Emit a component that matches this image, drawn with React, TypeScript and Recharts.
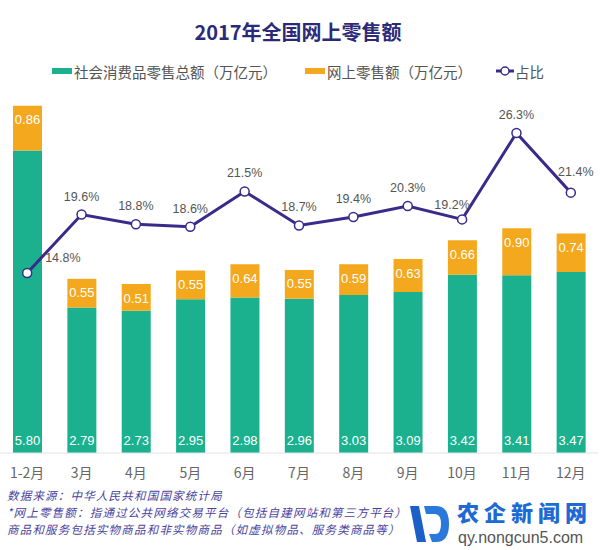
import { ComposedChart, Bar, Line, XAxis, YAxis, LabelList } from 'recharts'

const months = ['1-2月', '3月', '4月', '5月', '6月', '7月', '8月', '9月', '10月', '11月', '12月']
// 社会消费品零售总额（万亿元）
const totalRetail = [5.8, 2.79, 2.73, 2.95, 2.98, 2.96, 3.03, 3.09, 3.42, 3.41, 3.47]
// 网上零售额（万亿元）
const onlineRetail = [0.86, 0.55, 0.51, 0.55, 0.64, 0.55, 0.59, 0.63, 0.66, 0.9, 0.74]
// 占比（%）
const share = [14.8, 19.6, 18.8, 18.6, 21.5, 18.7, 19.4, 20.3, 19.2, 26.3, 21.4]

const notes = [
  '数据来源：中华人民共和国国家统计局',
  '*网上零售额：指通过公共网络交易平台（包括自建网站和第三方平台）',
  '商品和服务包括实物商品和非实物商品（如虚拟物品、服务类商品等）',
]

const GREEN = '#1bb18f'
const ORANGE = '#f4a81d'
const PURPLE = '#3a2a8a'
const CJK = '"Noto Sans CJK SC", "Liberation Sans", sans-serif'
const NUM = '"Liberation Sans", Arial, sans-serif'

const data = months.map((m, i) => ({
  month: m,
  total: totalRetail[i],
  online: onlineRetail[i],
  share: share[i],
}))

// eslint-disable-next-line @typescript-eslint/no-explicit-any
function BottomLabel(props: any) {
  const { x, y, width, height, value } = props
  return (
    <text
      x={Number(x) + Number(width) / 2}
      y={Number(y) + Number(height) - 13}
      fill="#fff"
      fontSize={13}
      fontFamily={NUM}
      textAnchor="middle"
      dominantBaseline="central"
    >
      {Number(value).toFixed(2)}
    </text>
  )
}

// eslint-disable-next-line @typescript-eslint/no-explicit-any
function TopLabel(props: any) {
  const { x, y, width, value } = props
  return (
    <text
      x={Number(x) + Number(width) / 2}
      y={Number(y) + 14}
      fill="#fff"
      fontSize={13}
      fontFamily={NUM}
      textAnchor="middle"
      dominantBaseline="central"
    >
      {Number(value).toFixed(2)}
    </text>
  )
}

// eslint-disable-next-line @typescript-eslint/no-explicit-any
function ShareLabel(props: any) {
  const { x, y, value, index } = props
  let dx = 0
  let dy = -18
  let anchor: 'start' | 'middle' = 'middle'
  if (index === 0) {
    dx = 18
    dy = -15
    anchor = 'start'
  } else if (index === 8) {
    dx = -10
    dy = -14
  } else if (index === 10) {
    dx = 5
    dy = -21
  }
  return (
    <text
      x={Number(x) + dx}
      y={Number(y) + dy}
      fill="#555"
      fontSize={12.5}
      fontFamily={NUM}
      textAnchor={anchor}
      dominantBaseline="central"
    >
      {`${Number(value).toFixed(1)}%`}
    </text>
  )
}

const abs = (left: number, top: number) => ({ position: 'absolute' as const, left, top })

export default function App() {
  return (
    <div style={{ position: 'absolute', left: 0, top: 0, width: 600, height: 550, background: '#fff', overflow: 'hidden' }}>
      <div
        style={{
          ...abs(0, 19),
          width: 596,
          textAlign: 'center',
          fontFamily: CJK,
          fontWeight: 700,
          fontSize: 20,
          lineHeight: '26px',
          color: '#2c2a78',
        }}
      >
        2017年全国网上零售额
      </div>

      {/* legend */}
      <div style={{ ...abs(52, 68), width: 20, height: 6, background: GREEN }} />
      <div style={{ ...abs(74, 63), fontFamily: CJK, fontSize: 14.5, lineHeight: '18px', color: '#555' }}>
        社会消费品零售总额（万亿元）
      </div>
      <div style={{ ...abs(305, 68), width: 20, height: 6, background: ORANGE }} />
      <div style={{ ...abs(327, 63), fontFamily: CJK, fontSize: 14.5, lineHeight: '18px', color: '#555' }}>
        网上零售额（万亿元）
      </div>
      <svg style={abs(496, 65)} width={18} height={12}>
        <line x1={0} y1={6} x2={18} y2={6} stroke={PURPLE} strokeWidth={3} />
        <circle cx={9} cy={6} r={4} fill="#fff" stroke={PURPLE} strokeWidth={1.5} />
      </svg>
      <div style={{ ...abs(515, 63), fontFamily: CJK, fontSize: 14.5, lineHeight: '18px', color: '#555' }}>
        占比
      </div>

      <div style={abs(0, 0)}>
        <ComposedChart
          width={600}
          height={550}
          data={data}
          margin={{ top: 88, right: 2, bottom: 67, left: 0 }}
          barCategoryGap={0}
        >
          <XAxis
            dataKey="month"
            height={30}
            tickLine={false}
            tickMargin={9}
            axisLine={{ stroke: '#e2e2e2' }}
            tick={{ fill: '#666', fontSize: 14, fontFamily: CJK }}
            interval={0}
          />
          <YAxis yAxisId="left" hide domain={[0, 7]} />
          <YAxis yAxisId="right" hide orientation="right" domain={[0, 30]} />
          <Bar yAxisId="left" dataKey="total" stackId="a" fill={GREEN} barSize={29} isAnimationActive={false}>
            <LabelList dataKey="total" content={BottomLabel} />
          </Bar>
          <Bar yAxisId="left" dataKey="online" stackId="a" fill={ORANGE} barSize={29} isAnimationActive={false}>
            <LabelList dataKey="online" content={TopLabel} />
          </Bar>
          <Line
            yAxisId="right"
            dataKey="share"
            stroke={PURPLE}
            strokeWidth={3}
            dot={{ r: 4.5, fill: '#fff', stroke: PURPLE, strokeWidth: 1.5 }}
            isAnimationActive={false}
          >
            <LabelList dataKey="share" content={ShareLabel} />
          </Line>
        </ComposedChart>
      </div>

      {/* notes */}
      <div
        style={{
          ...abs(7, 487),
          fontFamily: CJK,
          fontSize: 11.5,
          letterSpacing: 1.2,
          fontStyle: 'italic',
          lineHeight: '17px',
          color: '#4a3f9c',
        }}
      >
        {notes.map((n) => (
          <div key={n} style={{ height: 17, whiteSpace: 'nowrap' }}>
            {n}
          </div>
        ))}
      </div>

      {/* site watermark */}
      <svg style={abs(408, 504)} width={42} height={40}>
        <polygon points="2,2 11,2 18,38 9,38" fill="#1c5fc6" />
        <path d="M16,2 L28,2 Q41,2 41,20 Q41,38 28,38 L24,38 L21,30 L27,30 Q33,30 33,20 Q33,10 27,10 L18,10 Z" fill="#2a78dc" />
      </svg>
      <div
        style={{
          ...abs(457, 498),
          fontFamily: CJK,
          fontWeight: 900,
          fontSize: 22,
          lineHeight: '26px',
          letterSpacing: 5,
          color: '#1e6ad4',
        }}
      >
        农企新闻网
      </div>
      <div style={{ ...abs(458, 529), fontFamily: NUM, fontSize: 16, lineHeight: '18px', color: '#555' }}>
        qy.nongcun5.com
      </div>
    </div>
  )
}
